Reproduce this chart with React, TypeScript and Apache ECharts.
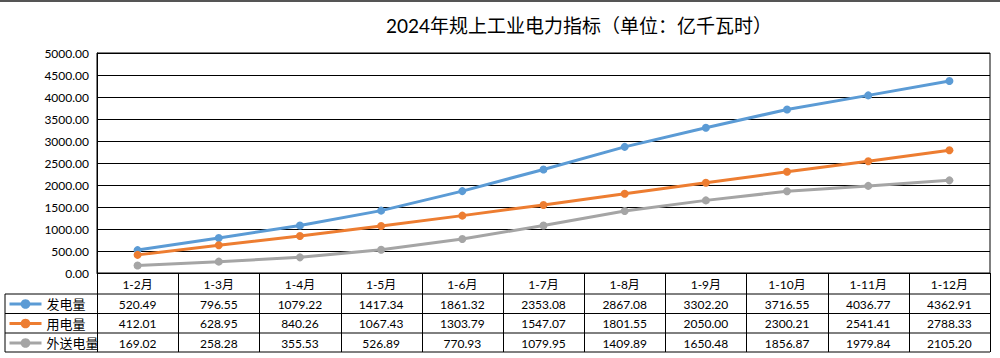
import React, { useEffect, useRef } from "react";
import * as echarts from "echarts";

const categories = ["1-2月", "1-3月", "1-4月", "1-5月", "1-6月", "1-7月", "1-8月", "1-9月", "1-10月", "1-11月", "1-12月"];
const generation = [520.49, 796.55, 1079.22, 1417.34, 1861.32, 2353.08, 2867.08, 3302.2, 3716.55, 4036.77, 4362.91];
const consumption = [412.01, 628.95, 840.26, 1067.43, 1303.79, 1547.07, 1801.55, 2050.0, 2300.21, 2541.41, 2788.33];
const exported = [169.02, 258.28, 355.53, 526.89, 770.93, 1079.95, 1409.89, 1650.48, 1856.87, 1979.84, 2105.2];
const seriesNames = ["发电量", "用电量", "外送电量"];
const seriesColors = ["#5B9BD5", "#ED7D31", "#A5A5A5"];
const titleText = "2024年规上工业电力指标（单位：亿千瓦时）";

const FONT = "Lato, 'Noto Sans CJK SC', sans-serif";

export default function App() {
  const ref = useRef<HTMLDivElement>(null);
  useEffect(() => {
    if (!ref.current) return;
    const chart = echarts.init(ref.current, null, { renderer: "svg" });
    const allData = [generation, consumption, exported];
    const gridLeft = 97, gridRight = 10, gridTop = 53, gridBottom = 85;
    const option: any = {
      animation: false,
      backgroundColor: "#fff",
      title: {
        text: titleText,
        left: 381,
        top: 11,
        textStyle: { fontSize: 19, fontWeight: "normal", color: "#000", fontFamily: FONT },
      },
      legend: {
        orient: "vertical",
        left: 8,
        top: 295.5,
        height: 62,
        itemWidth: 32,
        itemHeight: 12,
        itemGap: 2.5,
        padding: 0,
        lineStyle: { width: 3 },
        textStyle: { fontSize: 13, lineHeight: 17, color: "#000", fontFamily: FONT },
        data: seriesNames,
      },
      grid: {
        left: gridLeft,
        right: gridRight,
        top: gridTop,
        bottom: gridBottom,
        show: true,
        borderColor: "#000",
        borderWidth: 1,
        containLabel: false,
      },
      xAxis: {
        type: "category",
        data: categories,
        boundaryGap: true,
        axisLine: { show: true, lineStyle: { color: "#000", width: 1 } },
        axisTick: { show: false },
        axisLabel: { interval: 0, margin: 5, fontSize: 12, color: "#000", fontFamily: FONT },
      },
      yAxis: {
        type: "value",
        min: 0,
        max: 5000,
        interval: 500,
        axisLine: { show: true, lineStyle: { color: "#000" } },
        axisTick: { show: false },
        splitLine: { show: true, lineStyle: { color: "#000", width: 1 } },
        axisLabel: {
          margin: 8,
          fontSize: 12,
          color: "#000",
          fontFamily: FONT,
          formatter: (v: number) => v.toFixed(2),
        },
      },
      series: seriesNames.map((name, i) => ({
        name,
        type: "line",
        data: allData[i],
        symbol: "circle",
        symbolSize: 8,
        itemStyle: { color: seriesColors[i] },
        lineStyle: { color: seriesColors[i], width: 3 },
      })),
    };
    chart.setOption(option);

    const axisY = chart.convertToPixel({ yAxisIndex: 0 }, 0) as number;
    const leftX = chart.convertToPixel({ xAxisIndex: 0 }, 0) as number;
    const secondX = chart.convertToPixel({ xAxisIndex: 0 }, 1) as number;
    const colW = secondX - leftX;
    const plotLeft = leftX - colW / 2;
    const plotRight = plotLeft + colW * categories.length;
    const rowTops = [axisY + 21, axisY + 40.5, axisY + 60];
    const tableBottom = axisY + 79;
    const tableLeft = 5;
    const graphics: any[] = [];
    const lineStyle = { stroke: "#000", lineWidth: 1 };
    [...rowTops, tableBottom].forEach((y) => {
      graphics.push({ type: "line", shape: { x1: tableLeft, y1: y, x2: plotRight, y2: y }, style: lineStyle, silent: true });
    });
    graphics.push({ type: "line", shape: { x1: tableLeft, y1: rowTops[0], x2: tableLeft, y2: tableBottom }, style: lineStyle });
    for (let i = 0; i <= categories.length; i++) {
      const x = Math.round(plotLeft + colW * i) + 0.5;
      graphics.push({ type: "line", shape: { x1: x, y1: axisY, x2: x, y2: tableBottom }, style: lineStyle });
    }
    allData.forEach((arr, r) => {
      const top = rowTops[r];
      const next = r < 2 ? rowTops[r + 1] : tableBottom;
      const cy = (top + next) / 2 + 0.5;
      arr.forEach((v, c) => {
        const cx = chart.convertToPixel({ xAxisIndex: 0 }, c) as number;
        graphics.push({
          type: "text",
          x: cx,
          y: cy,
          style: {
            text: v.toFixed(2),
            fill: "#000",
            font: `12px ${FONT}`,
            align: "center",
            verticalAlign: "middle",
          },
        });
      });
    });
    graphics.push({ type: "rect", shape: { x: 0, y: 0, width: 1000, height: 2 }, style: { fill: "#555" } });
    chart.setOption({ graphic: graphics });

    return () => chart.dispose();
  }, []);
  return <div ref={ref} style={{ width: 1000, height: 358, position: "absolute", left: 0, top: 0 }} />;
}
